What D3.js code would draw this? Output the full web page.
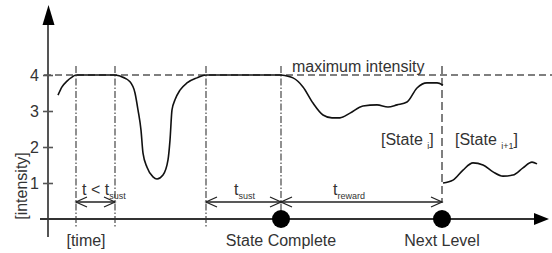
<!DOCTYPE html>
<html><head><meta charset="utf-8">
<script src="https://cdn.jsdelivr.net/npm/d3@7"></script>
<style>
html,body{margin:0;padding:0;background:#fff;}
svg{display:block;font-family:"Liberation Sans",Arial,sans-serif;}
</style></head>
<body><svg id="c" width="552" height="253"></svg>
<script>
// ---- data ----
const yTicks = [1, 2, 3, 4];
const maxIntensity = 4;
const boundaries = [5.6, 13.4, 31.6, 46.6];   // time markers (dash-dot lines)
const nextLevelT = 78.8;                         // next level (dashed line)
const stateCompleteT = 46.6;
const seg1 = [[2.0,3.44],[2.8,3.67],[3.8,3.83],[4.8,3.94],[5.6,4.0],[13.4,4.0]];
const seg2 = [[13.4,4.0],[14.4,3.97],[16.4,3.81],[17.4,3.5],[18.0,3.03],[18.6,2.47],[19.0,1.83],[19.8,1.44],[21.0,1.17],[21.8,1.11],[23.0,1.22],[24.0,1.64],[24.4,2.19],[24.8,3.03],[25.4,3.31],[26.4,3.58],[27.8,3.78],[29.8,3.92],[31.6,4.0],[46.6,4.0]];
const seg3 = [[46.6,4.0],[49.0,3.92],[51.0,3.67],[53.0,3.22],[55.0,2.89],[56.8,2.81],[58.4,2.81],[60.4,2.94],[63.0,3.14],[65.8,3.17],[68.0,3.11],[69.8,3.17],[71.8,3.25],[73.8,3.64],[75.8,3.78],[77.8,3.78],[79.0,3.72]];
const seg4 = [[79.0,1.0],[81.0,1.08],[83.0,1.36],[85.0,1.56],[87.0,1.5],[89.0,1.31],[91.0,1.19],[93.0,1.22],[95.0,1.42],[96.8,1.58],[97.8,1.53]];

// ---- scales ----
const svg = d3.select("#c");
const x = d3.scaleLinear().domain([0, 100]).range([48, 548]);
const y = d3.scaleLinear().domain([0, 4]).range([219, 75]);
const axisCol = "#555", dashCol = "#555", textCol = "#333";
const FF = "Liberation Sans, Arial, sans-serif";

// max intensity dashed line
svg.append("line").attr("x1", 44).attr("x2", 552)
  .attr("y1", y(maxIntensity)).attr("y2", y(maxIntensity))
  .attr("stroke", dashCol).attr("stroke-width", 1.6).attr("stroke-dasharray", "7,4");

// vertical dash-dot lines
svg.selectAll(".vb").data(boundaries).enter().append("line")
  .attr("x1", d => x(d)).attr("x2", d => x(d))
  .attr("y1", 66).attr("y2", 227)
  .attr("stroke", dashCol).attr("stroke-width", 1.3).attr("stroke-dasharray", "7,2,1.5,2");
svg.append("line").attr("x1", x(nextLevelT)).attr("x2", x(nextLevelT))
  .attr("y1", 66).attr("y2", 203)
  .attr("stroke", dashCol).attr("stroke-width", 1.5).attr("stroke-dasharray", "8,4");

// y axis
svg.append("line").attr("x1", 48).attr("x2", 48).attr("y1", 20).attr("y2", 237)
  .attr("stroke", axisCol).attr("stroke-width", 2);
svg.append("path").attr("d", "M48.5,5 L42.5,25 L54.5,25 Z").attr("fill", "#000");
const ya = svg.append("g").attr("transform", "translate(48,0)")
  .call(d3.axisLeft(y).tickValues(yTicks).tickFormat(d3.format("d")).tickSize(5).tickPadding(4));
ya.attr("font-family", FF);
ya.select(".domain").remove();
ya.selectAll(".tick line").attr("x1", 5).attr("stroke", axisCol).attr("stroke-width", 1.6);
ya.selectAll(".tick text").attr("font-size", 16).attr("fill", textCol);

// x axis
svg.append("line").attr("x1", 40).attr("x2", 536).attr("y1", y(0)).attr("y2", y(0))
  .attr("stroke", "#333").attr("stroke-width", 2);
svg.append("path").attr("d", `M534,${y(0)-6} L549,${y(0)} L534,${y(0)+6} Z`).attr("fill", "#000");

// curves
const line = d3.line().x(d => x(d[0])).y(d => y(d[1])).curve(d3.curveMonotoneX);
[seg1, seg2, seg3, seg4].forEach(s => {
  svg.append("path").attr("d", line(s)).attr("fill", "none")
    .attr("stroke", "#111").attr("stroke-width", 1.6);
});

// dimension arrows
const ay = 202;
function head(px, dir) {
  svg.append("path").attr("d", `M${px - dir*11},${ay-5} L${px},${ay} L${px - dir*11},${ay+5}`)
    .attr("fill", "none").attr("stroke", "#222").attr("stroke-width", 1.3);
}
function dim(t0, t1, leftHead) {
  svg.append("line").attr("x1", x(t0)).attr("x2", x(t1)).attr("y1", ay).attr("y2", ay)
    .attr("stroke", "#222").attr("stroke-width", 1.3);
  if (leftHead) head(x(t0), -1);
  head(x(t1), 1);
}
dim(boundaries[0], boundaries[1], true);
dim(boundaries[2], boundaries[3], true);
dim(stateCompleteT, nextLevelT, true);

// dots
svg.selectAll(".dot").data([stateCompleteT, nextLevelT]).enter().append("circle")
  .attr("cx", d => x(d)).attr("cy", y(0)).attr("r", 9).attr("fill", "#000");

// texts
function txt(xp, yp, s, size, anchor) {
  return svg.append("text").attr("x", xp).attr("y", yp).attr("font-size", size)
    .attr("fill", textCol).attr("text-anchor", anchor || "start").text(s);
}
const t1 = svg.append("text").attr("x", 82).attr("y", 195).attr("font-size", 16).attr("fill", textCol);
t1.append("tspan").text("t < t");
t1.append("tspan").attr("font-size", 9).attr("dy", 4).text("sust");
const t2 = svg.append("text").attr("x", 234).attr("y", 195).attr("font-size", 16).attr("fill", textCol);
t2.append("tspan").text("t");
t2.append("tspan").attr("font-size", 9).attr("dy", 4).text("sust");
const t3 = svg.append("text").attr("x", 333).attr("y", 195).attr("font-size", 16).attr("fill", textCol);
t3.append("tspan").text("t");
t3.append("tspan").attr("font-size", 9).attr("dy", 4).text("reward");

txt(292, 72, "maximum intensity", 16);
const s1 = svg.append("text").attr("x", 381).attr("y", 145).attr("font-size", 16).attr("fill", textCol);
s1.append("tspan").text("[State ");
s1.append("tspan").attr("font-size", 9).attr("dy", 4).text("i");
s1.append("tspan").attr("dy", -4).text("]");
const s2 = svg.append("text").attr("x", 455).attr("y", 145).attr("font-size", 16).attr("fill", textCol);
s2.append("tspan").text("[State ");
s2.append("tspan").attr("font-size", 9).attr("dy", 4).text("i+1");
s2.append("tspan").attr("dy", -4).text("]");

txt(86, 246, "[time]", 16, "middle");
txt(x(stateCompleteT), 246, "State Complete", 16, "middle");
txt(x(nextLevelT), 246, "Next Level", 16, "middle");
svg.append("text").attr("transform", "translate(27,186) rotate(-90)")
  .attr("text-anchor", "middle").attr("font-size", 16).attr("fill", textCol).text("[intensity]");
</script></body></html>
